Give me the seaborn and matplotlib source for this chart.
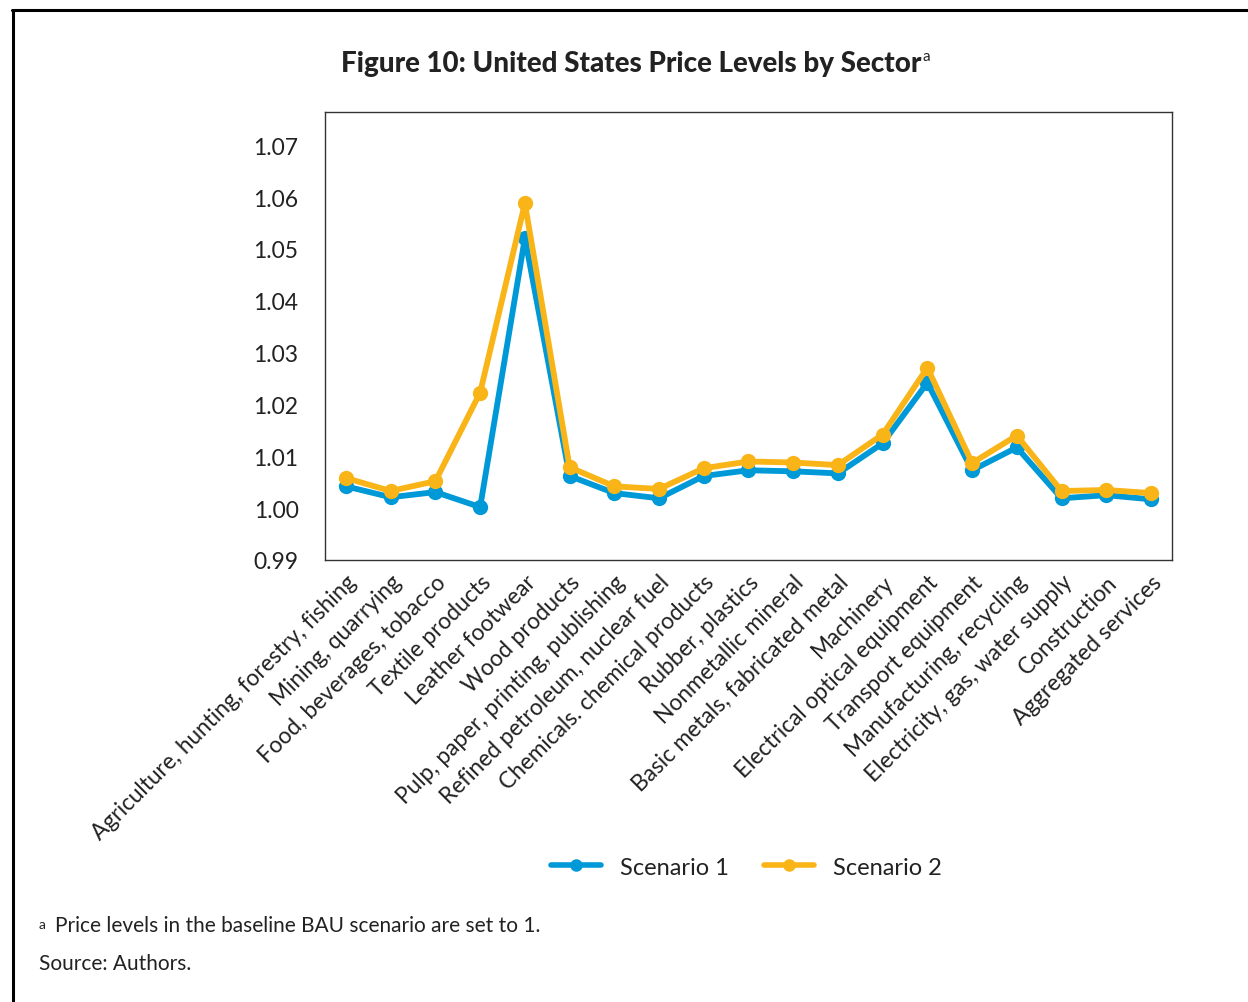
#!/usr/bin/env python3
"""
Figure 10: United States price levels by sector, two scenarios.
"""

import matplotlib.pyplot as plt
import pandas as pd
import seaborn as sns
from matplotlib.lines import Line2D

sectors = [
    "Agriculture, hunting, forestry, fishing",
    "Mining, quarrying",
    "Food, beverages, tobacco",
    "Textile products",
    "Leather footwear",
    "Wood products",
    "Pulp, paper, printing, publishing",
    "Refined petroleum, nuclear fuel",
    "Chemicals. chemical products",
    "Rubber, plastics",
    "Nonmetallic mineral",
    "Basic metals, fabricated metal",
    "Machinery",
    "Electrical optical equipment",
    "Transport equipment",
    "Manufacturing, recycling",
    "Electricity, gas, water supply",
    "Construction",
    "Aggregated services",
]
scenario1 = [1.0042, 1.0021, 1.0031, 1.0002, 1.0521, 1.0062, 1.0029, 1.0019, 1.0062,
             1.0073, 1.0071, 1.0067, 1.0125, 1.0242, 1.0073, 1.0117, 1.0019, 1.0025, 1.0017]
scenario2 = [1.0058, 1.0033, 1.0052, 1.0223, 1.0588, 1.0079, 1.0042, 1.0037, 1.0077,
             1.0090, 1.0088, 1.0083, 1.0142, 1.0271, 1.0087, 1.0140, 1.0033, 1.0035, 1.0029]
yticks = [0.99, 1.00, 1.01, 1.02, 1.03, 1.04, 1.05, 1.06, 1.07]

BLUE = "#0099D8"
ORANGE = "#F9B418"


def main() -> None:
    sns.set_theme(style="white")
    plt.rcParams["font.family"] = ["Lato", "DejaVu Sans"]
    plt.rcParams["text.color"] = "#222222"

    df = pd.DataFrame({
        "pos": list(range(len(sectors))) * 2,
        "value": scenario1 + scenario2,
        "scenario": ["Scenario 1"] * len(sectors) + ["Scenario 2"] * len(sectors),
    })

    fig = plt.figure(figsize=(12.48, 10.03), dpi=100)
    ax = fig.add_axes([0.2604, 0.4407, 0.9391 - 0.2604, 0.8873 - 0.4407])

    sns.lineplot(
        ax=ax,
        data=df,
        x="pos",
        y="value",
        hue="scenario",
        palette={"Scenario 1": BLUE, "Scenario 2": ORANGE},
        marker="o",
        markersize=11,
        markeredgewidth=0,
        linewidth=4.2,
        legend=False,
    )

    ax.set_xlim(-0.47, len(sectors) - 1 + 0.47)
    ax.set_ylim(0.99, 1.0764)
    ax.set_yticks(yticks)
    ax.set_yticklabels([f"{v:.2f}" for v in yticks], fontsize=16.5, color="#222222")
    ax.set_xticks(range(len(sectors)))
    ax.set_xticklabels(sectors, rotation=45, ha="right", va="top",
                       rotation_mode="anchor", fontsize=16.3, color="#222222")
    ax.tick_params(axis="y", length=0, pad=19)
    ax.tick_params(axis="x", length=0, pad=8)
    ax.set_xlabel("")
    ax.set_ylabel("")
    for spine in ax.spines.values():
        spine.set_color("#333333")
        spine.set_linewidth(1.0)

    handles = [
        Line2D([0], [0], color=BLUE, lw=4, marker="o", markersize=9,
               markeredgewidth=0, solid_capstyle="round"),
        Line2D([0], [0], color=ORANGE, lw=4, marker="o", markersize=9,
               markeredgewidth=0, solid_capstyle="round"),
    ]
    fig.legend(handles, ["Scenario 1", "Scenario 2"], loc="center",
               bbox_to_anchor=(0.598, 0.1345), ncol=2, frameon=False,
               fontsize=17, handlelength=2.1, columnspacing=1.5, handletextpad=0.8)

    title = fig.text(0.2735, 0.936, "Figure 10: United States Price Levels by Sector",
                     fontsize=20, fontweight="black", ha="left", va="center")
    fig.canvas.draw()
    bb = title.get_window_extent().transformed(fig.transFigure.inverted())
    fig.text(bb.x1 + 0.001, 0.943, "a", fontsize=11, ha="left", va="center")

    fig.text(0.031, 0.078, "a", fontsize=10, ha="left", va="center")
    fig.text(0.044, 0.077, "Price levels in the baseline BAU scenario are set to 1.",
             fontsize=15, ha="left", va="center")
    fig.text(0.031, 0.039, "Source: Authors.", fontsize=15, ha="left", va="center")

    # frame lines along the top and left edge of the figure
    fig.add_artist(Line2D([0.0096, 1.0], [0.989, 0.989], color="black", lw=2.2,
                          transform=fig.transFigure))
    fig.add_artist(Line2D([0.0104, 0.0104], [0.0, 0.989], color="black", lw=2.2,
                          transform=fig.transFigure))

    fig.savefig("out.png", dpi=100, facecolor="white")


if __name__ == "__main__":
    main()
